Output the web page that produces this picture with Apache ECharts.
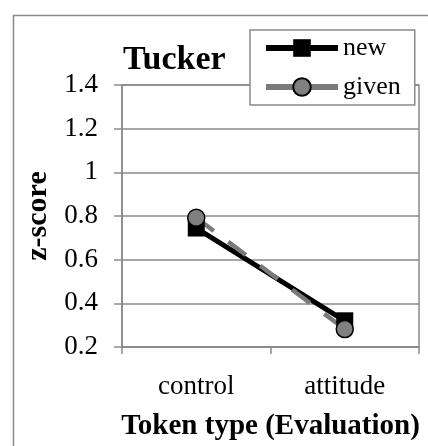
<!DOCTYPE html>
<html><head><meta charset="utf-8">
<script src="https://cdn.jsdelivr.net/npm/echarts@6/dist/echarts.min.js"></script>
<style>html,body{margin:0;padding:0;background:#fff}#c{width:428px;height:446px}</style>
</head><body><div id="c"></div>
<script>
const categories = ['control', 'attitude'];
const newValues = [0.745, 0.32];
const givenValues = [0.792, 0.282];
const yTicks = { min: 0.2, max: 1.4, step: 0.2 };
const titleText = 'Tucker';
const xName = 'Token type (Evaluation)';
const yName = 'z-score';

const serif = '"Liberation Serif", "Times New Roman", serif';
const gridGray = '#8a8a8a';
const chart = echarts.init(document.getElementById('c'), null, { renderer: 'canvas' });
chart.setOption({
  animation: false,
  backgroundColor: '#fff',
  graphic: [{
    type: 'rect', left: 11, top: 13, shape: { width: 600, height: 600 },
    style: { fill: 'none', stroke: '#8a8a8a', lineWidth: 1.5 }, silent: true, z: -1
  }],
  title: {
    text: titleText, left: 118, top: 38,
    textStyle: { fontFamily: serif, fontWeight: 'bold', fontSize: 34, color: '#000' }
  },
  legend: {
    orient: 'vertical', left: 250, top: 30,
    padding: [3, 14, 3, 13], itemGap: 9,
    itemWidth: 72, itemHeight: 22,
    backgroundColor: '#fff', borderColor: '#8a8a8a', borderWidth: 1.5,
    textStyle: { fontFamily: serif, fontSize: 26, color: '#000', lineHeight: 30 },
    data: [
      { name: 'new', lineStyle: { width: 6, type: 'solid', color: '#000' } },
      { name: 'given', lineStyle: { width: 6, type: 'solid', color: '#7a7a7a' } }
    ]
  },
  grid: { left: 122, right: 9, top: 85, bottom: 98, show: true, borderColor: gridGray, borderWidth: 1.5 },
  xAxis: {
    type: 'category', data: categories, boundaryGap: true,
    axisLine: { lineStyle: { color: gridGray, width: 1.5 } },
    axisTick: { show: true, length: 7, interval: 0, lineStyle: { color: gridGray, width: 1.5 } },
    axisLabel: { fontFamily: serif, fontSize: 27, color: '#000', margin: 26 },
    name: xName, nameLocation: 'middle', nameGap: 65,
    nameTextStyle: { fontFamily: serif, fontWeight: 'bold', fontSize: 29, color: '#000' }
  },
  yAxis: {
    type: 'value', min: yTicks.min, max: yTicks.max, interval: yTicks.step,
    axisLine: { show: true, lineStyle: { color: gridGray, width: 1.5 } },
    axisTick: { show: true, length: 8, lineStyle: { color: gridGray, width: 1.5 } },
    splitLine: { show: true, lineStyle: { color: gridGray, width: 1.5 } },
    axisLabel: { fontFamily: serif, fontSize: 27, color: '#000', margin: 24,
      formatter: v => String(Math.round(v * 10) / 10) },
    name: yName, nameLocation: 'middle', nameGap: 66, nameRotate: 90,
    nameTextStyle: { fontFamily: serif, fontWeight: 'bold', fontSize: 30, color: '#000' }
  },
  series: [
    {
      name: 'new', type: 'line', data: newValues,
      symbol: 'rect', symbolSize: 17,
      lineStyle: { color: '#000', width: 5 },
      itemStyle: { color: '#000' }
    },
    {
      name: 'given', type: 'line', data: givenValues,
      symbol: 'circle', symbolSize: 17,
      lineStyle: { color: '#7a7a7a', width: 4.5, type: [22, 18] },
      itemStyle: { color: '#808080', borderColor: '#000', borderWidth: 1.5 }
    }
  ]
});
</script></body></html>
